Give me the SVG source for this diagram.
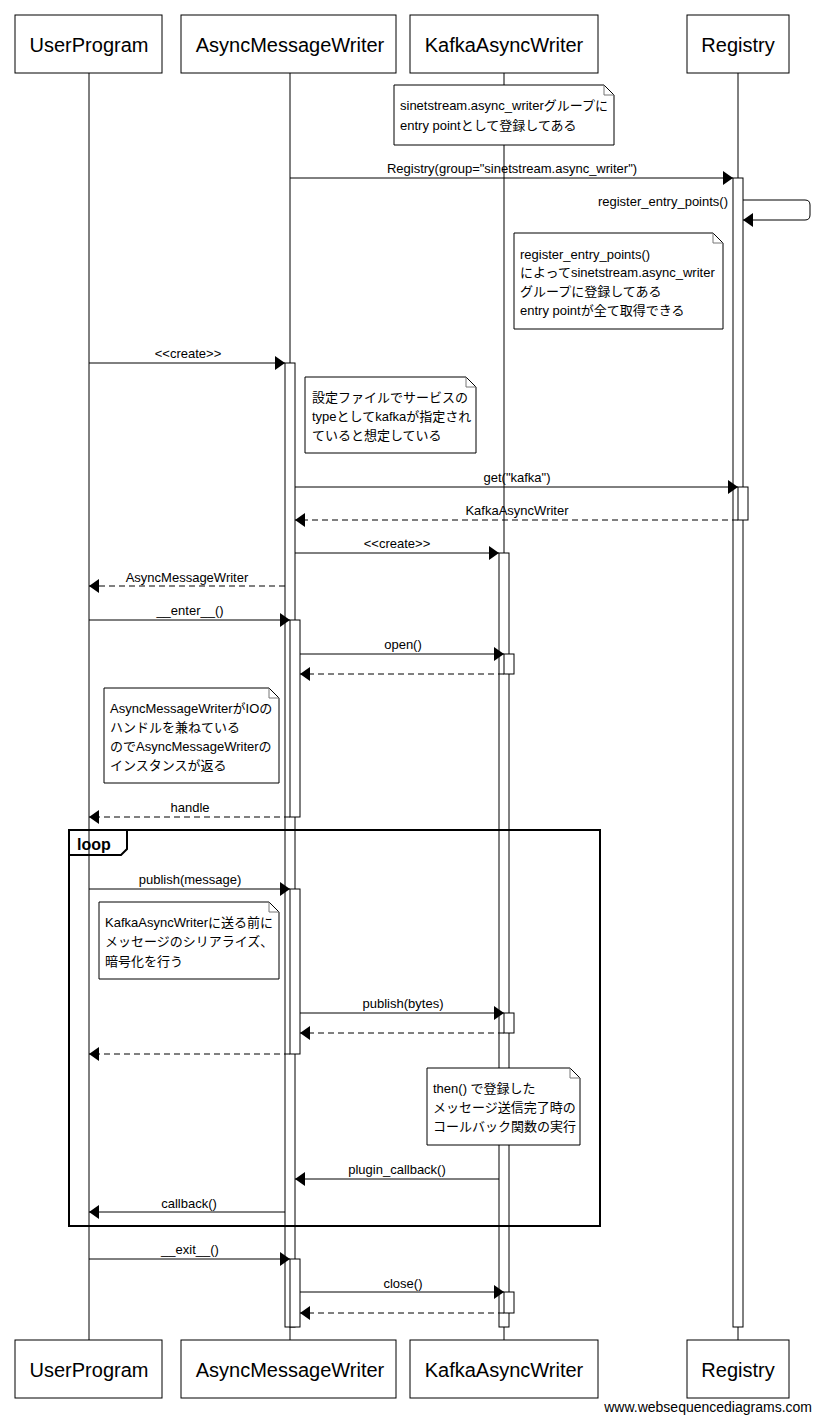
<svg xmlns="http://www.w3.org/2000/svg" width="820" height="1421" viewBox="0 0 820 1421">
<style>
.p{fill:#fff;stroke:#000;stroke-width:1}
.pt{font-family:"Liberation Sans",Arial,sans-serif;font-size:20px;text-anchor:middle}
.ll{stroke:#000;stroke-width:1}
.act{fill:#fff;stroke:#000;stroke-width:1}
.m{stroke:#000;stroke-width:1;fill:none;marker-end:url(#ah)}
.r{stroke:#000;stroke-width:1;fill:none;stroke-dasharray:6,4;marker-end:url(#ah)}
.ml{font-family:"Liberation Sans",Arial,sans-serif;font-size:13px;text-anchor:middle}
.n{fill:#fff;stroke:#000;stroke-width:1}
.nf{fill:none;stroke:#777;stroke-width:1}
.nt{font-family:"Liberation Sans",Arial,"Noto Sans CJK JP",sans-serif;font-size:13px}
.fr{fill:none;stroke:#000;stroke-width:2}
</style>
<defs>
<marker id="ah" viewBox="0 0 10 14" refX="10" refY="7" markerWidth="10" markerHeight="14" markerUnits="userSpaceOnUse" orient="auto">
<path d="M0,0 L10,7 L0,14 Z" fill="#000"/>
</marker>
</defs>
<rect width="820" height="1421" fill="#fff"/>
<g id="lifelines">
<line class="ll" x1="89" y1="73" x2="89" y2="1340"/>
<line class="ll" x1="290" y1="73" x2="290" y2="1340"/>
<line class="ll" x1="504" y1="73" x2="504" y2="1340"/>
<line class="ll" x1="738" y1="73" x2="738" y2="1340"/>
</g>
<g id="activations">
<rect class="act" x="733" y="178" width="10" height="1149"/>
<rect class="act" x="738" y="487" width="10" height="33"/>
<rect class="act" x="285" y="363" width="10" height="964"/>
<rect class="act" x="290" y="620" width="10" height="197"/>
<rect class="act" x="290" y="889" width="10" height="165"/>
<rect class="act" x="290" y="1259" width="10" height="68"/>
<rect class="act" x="499" y="553" width="10" height="774"/>
<rect class="act" x="504" y="654" width="10" height="20"/>
<rect class="act" x="504" y="1013" width="10" height="20"/>
<rect class="act" x="504" y="1292" width="10" height="21"/>
</g>
<g id="participants">
<g id="UserProgram"><rect class="p" x="15" y="15" width="147" height="58"/><text class="pt" x="89" y="52">UserProgram</text>
<rect class="p" x="15" y="1340" width="147" height="58"/><text class="pt" x="89" y="1377">UserProgram</text></g>
<g id="AsyncMessageWriter"><rect class="p" x="181" y="15" width="215" height="58"/><text class="pt" x="290" y="52">AsyncMessageWriter</text>
<rect class="p" x="181" y="1340" width="215" height="58"/><text class="pt" x="290" y="1377">AsyncMessageWriter</text></g>
<g id="KafkaAsyncWriter"><rect class="p" x="410" y="15" width="188" height="58"/><text class="pt" x="504" y="52">KafkaAsyncWriter</text>
<rect class="p" x="410" y="1340" width="188" height="58"/><text class="pt" x="504" y="1377">KafkaAsyncWriter</text></g>
<g id="Registry"><rect class="p" x="687" y="15" width="102" height="58"/><text class="pt" x="738" y="52">Registry</text>
<rect class="p" x="687" y="1340" width="102" height="58"/><text class="pt" x="738" y="1377">Registry</text></g>
</g>
<g id="notes">
<g id="note1"><path class="n" d="M394,85 H604 L614,95 V145 H394 Z"/><path class="nf" d="M604,85 V95 H614"/>
<text class="nt" x="400" y="110">sinetstream.async_writerグループに</text>
<text class="nt" x="400" y="130">entry pointとして登録してある</text></g>
<g id="note2"><path class="n" d="M514,233 H713 L723,243 V329 H514 Z"/><path class="nf" d="M713,233 V243 H723"/>
<text class="nt" x="520" y="259">register_entry_points()</text>
<text class="nt" x="520" y="277">によってsinetstream.async_writer</text>
<text class="nt" x="520" y="296">グループに登録してある</text>
<text class="nt" x="520" y="315">entry pointが全て取得できる</text></g>
<g id="note3"><path class="n" d="M305,377 H466 L476,387 V453 H305 Z"/><path class="nf" d="M466,377 V387 H476"/>
<text class="nt" x="312" y="402">設定ファイルでサービスの</text>
<text class="nt" x="312" y="421">typeとしてkafkaが指定され</text>
<text class="nt" x="312" y="440">ていると想定している</text></g>
<g id="note4"><path class="n" d="M104,688 H269 L279,698 V783 H104 Z"/><path class="nf" d="M269,688 V698 H279"/>
<text class="nt" x="110" y="713">AsyncMessageWriterがIOの</text>
<text class="nt" x="110" y="732">ハンドルを兼ねている</text>
<text class="nt" x="110" y="751">のでAsyncMessageWriterの</text>
<text class="nt" x="110" y="770">インスタンスが返る</text></g>
<g id="note5"><path class="n" d="M99,902 H269 L279,912 V979 H99 Z"/><path class="nf" d="M269,902 V912 H279"/>
<text class="nt" x="105" y="927">KafkaAsyncWriterに送る前に</text>
<text class="nt" x="105" y="946">メッセージのシリアライズ、</text>
<text class="nt" x="105" y="966">暗号化を行う</text></g>
<g id="note6"><path class="n" d="M427,1068 H570 L580,1078 V1145 H427 Z"/><path class="nf" d="M570,1068 V1078 H580"/>
<text class="nt" x="433" y="1093">then() で登録した</text>
<text class="nt" x="433" y="1112">メッセージ送信完了時の</text>
<text class="nt" x="433" y="1131">コールバック関数の実行</text></g>
</g>
<g id="loop">
<rect class="fr" x="69" y="830" width="531" height="396"/>
<path class="fr" d="M69,855 H121 L127,849 V830" fill="#fff"/>
<text x="77" y="850" font-family="'Liberation Sans',Arial,sans-serif" font-size="16" font-weight="bold">loop</text>
</g>
<g id="connectors">
<line class="m" x1="290" y1="178" x2="733" y2="178"/>
<text class="ml" x="512" y="173">Registry(group="sinetstream.async_writer")</text>
<path class="m" d="M743,200 H805 Q810,200 810,205 V215 Q810,220 805,220 H743"/>
<text class="ml" x="728" y="206" style="text-anchor:end">register_entry_points()</text>
<line class="m" x1="89" y1="363" x2="285" y2="363"/>
<text class="ml" x="188" y="358">&lt;&lt;create&gt;&gt;</text>
<line class="m" x1="295" y1="487" x2="738" y2="487"/>
<text class="ml" x="517" y="482">get("kafka")</text>
<line class="r" x1="738" y1="520" x2="295" y2="520"/>
<text class="ml" x="517" y="515">KafkaAsyncWriter</text>
<line class="m" x1="295" y1="553" x2="499" y2="553"/>
<text class="ml" x="397" y="548">&lt;&lt;create&gt;&gt;</text>
<line class="r" x1="285" y1="586" x2="89" y2="586"/>
<text class="ml" x="187" y="582">AsyncMessageWriter</text>
<line class="m" x1="89" y1="620" x2="290" y2="620"/>
<text class="ml" x="190" y="615">__enter__()</text>
<line class="m" x1="300" y1="654" x2="504" y2="654"/>
<text class="ml" x="403" y="649">open()</text>
<line class="r" x1="504" y1="674" x2="300" y2="674"/>
<line class="r" x1="290" y1="817" x2="89" y2="817"/>
<text class="ml" x="190" y="812">handle</text>
<line class="m" x1="89" y1="889" x2="290" y2="889"/>
<text class="ml" x="190" y="884">publish(message)</text>
<line class="m" x1="300" y1="1013" x2="504" y2="1013"/>
<text class="ml" x="403" y="1008">publish(bytes)</text>
<line class="r" x1="504" y1="1033" x2="300" y2="1033"/>
<line class="r" x1="290" y1="1054" x2="89" y2="1054"/>
<line class="m" x1="499" y1="1179" x2="295" y2="1179"/>
<text class="ml" x="397" y="1174">plugin_callback()</text>
<line class="m" x1="285" y1="1212" x2="89" y2="1212"/>
<text class="ml" x="189" y="1208">callback()</text>
<line class="m" x1="89" y1="1259" x2="290" y2="1259"/>
<text class="ml" x="190" y="1254">__exit__()</text>
<line class="m" x1="300" y1="1292" x2="504" y2="1292"/>
<text class="ml" x="403" y="1288">close()</text>
<line class="r" x1="504" y1="1313" x2="300" y2="1313"/>
</g>
<text x="812" y="1412" font-family="'Liberation Sans',Arial,sans-serif" font-size="14" text-anchor="end">www.websequencediagrams.com</text>
</svg>
